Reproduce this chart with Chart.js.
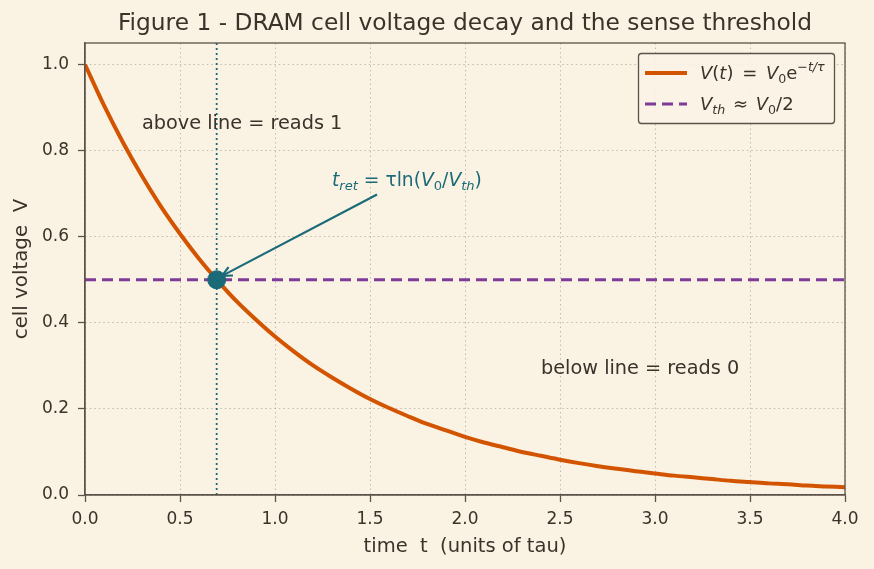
<!DOCTYPE html>
<html>
<head>
<meta charset="utf-8">
<script src="https://cdn.jsdelivr.net/npm/chart.js@4.4.1/dist/chart.umd.min.js"></script>
<style>
  html, body { margin: 0; padding: 0; background: #faf2e3; }
  #wrap { width: 874px; height: 569px; }
</style>
</head>
<body>
<div id="wrap"><canvas id="decayChart" width="874" height="569"></canvas></div>
<script>
// values
const timeT = [0.0, 0.1, 0.2, 0.3, 0.4, 0.5, 0.6, 0.7, 0.8, 0.9, 1.0, 1.1, 1.2, 1.3, 1.4, 1.5, 1.6, 1.7, 1.8, 1.9, 2.0,
               2.1, 2.2, 2.3, 2.4, 2.5, 2.6, 2.7, 2.8, 2.9, 3.0, 3.1, 3.2, 3.3, 3.4, 3.5, 3.6, 3.7, 3.8, 3.9, 4.0];
const cellVoltage = [1.000, 0.905, 0.819, 0.741, 0.670, 0.607, 0.549, 0.497, 0.449, 0.407, 0.368, 0.333, 0.301, 0.273,
                     0.247, 0.223, 0.202, 0.183, 0.165, 0.150, 0.135, 0.122, 0.111, 0.100, 0.091, 0.082, 0.074, 0.067,
                     0.061, 0.055, 0.050, 0.045, 0.041, 0.037, 0.033, 0.030, 0.027, 0.025, 0.022, 0.020, 0.018];
const threshold = 0.5;
const retentionT = 0.693;
const xTicks = [0.0, 0.5, 1.0, 1.5, 2.0, 2.5, 3.0, 3.5, 4.0];
const yTicks = [0.0, 0.2, 0.4, 0.6, 0.8, 1.0];
const chartTitle = 'Figure 1 - DRAM cell voltage decay and the sense threshold';

const ink = '#3b322a';
const frame = '#5c5249';
const orange = '#d35400';
const purple = '#7d3c98';
const teal = '#1a6a78';
const FONT = '"DejaVu Sans", sans-serif';

// draws a list of segments: [text, italic, 'sub'|'sup'|null, extra gap after]
function richText(ctx, segs, x, y, size, color) {
    ctx.save();
    ctx.fillStyle = color;
    ctx.textBaseline = 'alphabetic';
    ctx.textAlign = 'left';
    let cx = x;
    segs.forEach(s => {
        let fs = size, dy = 0;
        if (s[2] === 'sub') { fs = size * 0.7; dy = size * 0.22; }
        if (s[2] === 'sup') { fs = size * 0.7; dy = -size * 0.45; }
        ctx.font = (s[1] ? 'italic ' : '') + fs + 'px ' + FONT;
        ctx.fillText(s[0], cx, y + dy);
        cx += ctx.measureText(s[0]).width + (s[3] || 0);
    });
    ctx.restore();
}

const extras = {
    id: 'extras',
    beforeDraw(chart) {
        const ctx = chart.ctx;
        ctx.save();
        ctx.fillStyle = '#faf2e3';
        ctx.fillRect(0, 0, chart.width, chart.height);
        ctx.restore();
    },
    afterDatasetsDraw(chart) {
        const ctx = chart.ctx;
        const xs = chart.scales.x, ys = chart.scales.y;
        const a = chart.chartArea;

        // title centred over the plot area
        ctx.save();
        ctx.fillStyle = ink;
        ctx.font = '23.3px ' + FONT;
        ctx.textAlign = 'center';
        ctx.textBaseline = 'middle';
        ctx.fillText(chartTitle, (a.left + a.right) / 2, 24);
        ctx.restore();

        // frame on top and right
        ctx.save();
        ctx.strokeStyle = frame;
        ctx.lineWidth = 1.3;
        ctx.strokeRect(a.left, a.top, a.right - a.left, a.bottom - a.top);
        ctx.restore();

        // arrow
        const x1 = xs.getPixelForValue(1.537), y1 = ys.getPixelForValue(0.698);
        const x2 = xs.getPixelForValue(0.721), y2 = ys.getPixelForValue(0.509);
        const ang = Math.atan2(y2 - y1, x2 - x1);
        ctx.save();
        ctx.strokeStyle = teal;
        ctx.lineWidth = 2.2;
        ctx.beginPath();
        ctx.moveTo(x1, y1);
        ctx.lineTo(x2, y2);
        ctx.stroke();
        ctx.beginPath();
        ctx.moveTo(x2 - 11 * Math.cos(ang - 0.45), y2 - 11 * Math.sin(ang - 0.45));
        ctx.lineTo(x2, y2);
        ctx.lineTo(x2 - 11 * Math.cos(ang + 0.45), y2 - 11 * Math.sin(ang + 0.45));
        ctx.stroke();
        ctx.restore();

        richText(ctx, [['t', true], ['ret', true, 'sub'], [' = τln(', false], ['V', true], ['0', false, 'sub'],
                       ['/', false], ['V', true], ['th', true, 'sub'], [')', false]],
                 332, 186, 18.7, teal);

        ctx.save();
        ctx.fillStyle = ink;
        ctx.font = '19.3px ' + FONT;
        ctx.textBaseline = 'middle';
        ctx.fillText('above line = reads 1', 142, 124);
        ctx.fillText('below line = reads 0', 541, 369);
        ctx.restore();

        // legend box
        ctx.save();
        const bx = 638.5, by = 53.5, bw = 196, bh = 70;
        ctx.fillStyle = 'rgba(250,243,230,0.9)';
        ctx.strokeStyle = frame;
        ctx.lineWidth = 1.3;
        ctx.beginPath();
        ctx.roundRect(bx, by, bw, bh, 3);
        ctx.fill();
        ctx.stroke();
        ctx.lineWidth = 3.8;
        ctx.strokeStyle = orange;
        ctx.beginPath();
        ctx.moveTo(645, 73);
        ctx.lineTo(687, 73);
        ctx.stroke();
        ctx.lineWidth = 3;
        ctx.strokeStyle = purple;
        ctx.setLineDash([11, 6]);
        ctx.beginPath();
        ctx.moveTo(645, 104);
        ctx.lineTo(687, 104);
        ctx.stroke();
        ctx.restore();
        richText(ctx, [['V', true], ['(', false], ['t', true], [') ', false, null, 3], ['= ', false, null, 3], ['V', true], ['0', false, 'sub'],
                       ['e', false], ['−t/τ', true, 'sup']], 700, 79, 18, ink);
        richText(ctx, [['V', true], ['th', true, 'sub'], [' ', false, null, 2], ['≈ ', false, null, 2], ['V', true], ['0', false, 'sub'],
                       ['/2', false]], 700, 110, 18, ink);
    }
};

const ctx = document.getElementById('decayChart').getContext('2d');
new Chart(ctx, {
    type: 'scatter',
    data: {
        datasets: [{
            label: 'V(t)',
            data: timeT.map((t, i) => ({ x: t, y: cellVoltage[i] })),
            showLine: true,
            borderColor: orange,
            borderWidth: 4,
            pointRadius: 0,
            tension: 0.3,
            order: 3
        }, {
            label: 'Vth',
            data: [{ x: 0, y: threshold }, { x: 4, y: threshold }],
            showLine: true,
            borderColor: purple,
            borderWidth: 3,
            borderDash: [11, 6],
            pointRadius: 0,
            order: 2
        }, {
            label: 'tret',
            data: [{ x: retentionT, y: 0 }, { x: retentionT, y: 1.05 }],
            showLine: true,
            borderColor: teal,
            borderWidth: 1.8,
            borderDash: [2, 3],
            pointRadius: 0,
            order: 4
        }, {
            label: 'cross',
            data: [{ x: retentionT, y: threshold }],
            backgroundColor: teal,
            borderColor: teal,
            pointRadius: 9,
            order: 1
        }]
    },
    options: {
        responsive: false,
        animation: false,
        layout: { padding: { left: 0, right: 29, top: 43, bottom: 0 } },
        plugins: {
            legend: { display: false },
            tooltip: { enabled: false },
            title: { display: false }
        },
        scales: {
            x: {
                type: 'linear',
                min: 0,
                max: 4,
                afterBuildTicks: s => { s.ticks = xTicks.map(v => ({ value: v })); },
                afterFit: s => { s.height = 74; },
                ticks: { color: ink, font: { family: FONT, size: 17 }, padding: 7, callback: v => v.toFixed(1) },
                grid: { color: 'rgba(160,150,135,0.6)', lineWidth: 1, tickLength: 7, tickColor: frame, tickWidth: 1.3, tickBorderDash: [] },
                border: { color: frame, width: 1.3, dash: [1.5, 3] },
                title: { display: true, text: 'time  t  (units of tau)', color: ink, font: { family: FONT, size: 19.5 }, padding: { top: 4, bottom: 10 } }
            },
            y: {
                type: 'linear',
                min: 0,
                max: 1.05,
                afterBuildTicks: s => { s.ticks = yTicks.map(v => ({ value: v })); },
                afterFit: s => { s.width = 85; },
                ticks: { color: ink, font: { family: FONT, size: 17 }, padding: 9, callback: v => v.toFixed(1) },
                grid: { color: 'rgba(160,150,135,0.6)', lineWidth: 1, tickLength: 7, tickColor: frame, tickWidth: 1.3, tickBorderDash: [] },
                border: { color: frame, width: 1.3, dash: [1.5, 3] },
                title: { display: true, text: 'cell voltage  V', color: ink, font: { family: FONT, size: 19.8 }, padding: { top: 10 } }
            }
        }
    },
    plugins: [extras]
});
</script>
</body>
</html>
